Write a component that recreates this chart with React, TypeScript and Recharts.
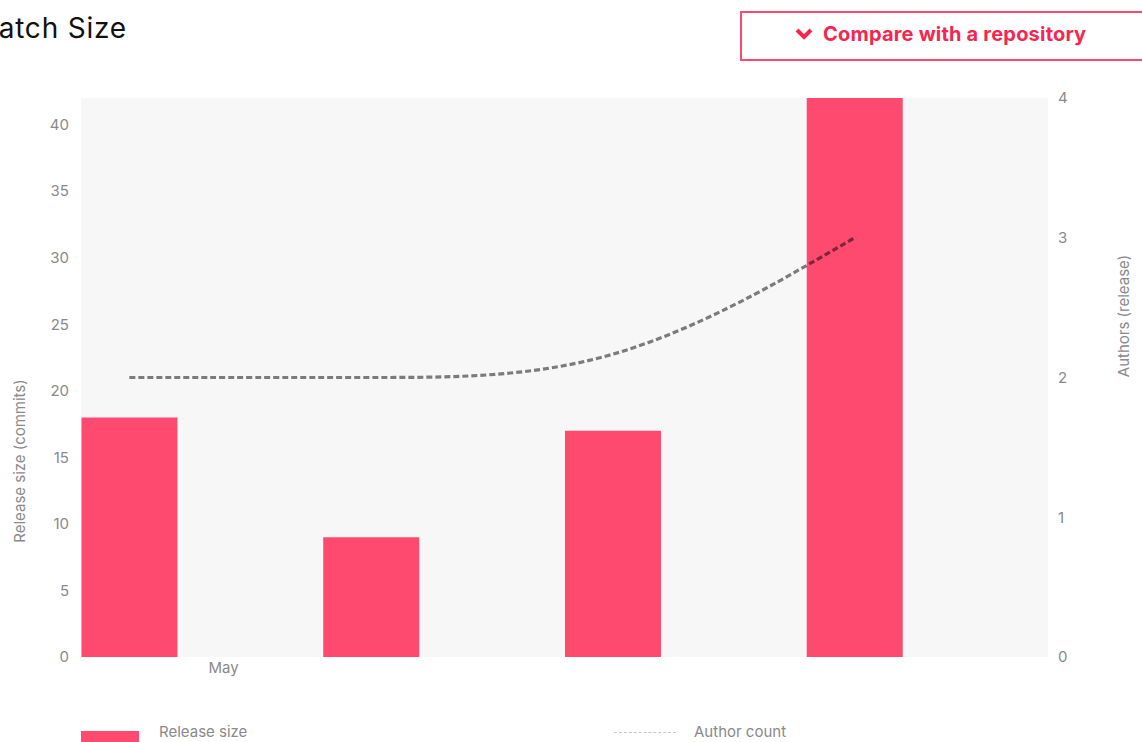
import React from 'react';
import {
  ComposedChart,
  Bar,
  Line,
  XAxis,
  YAxis,
  CartesianGrid,
} from 'recharts';

// ---- data ----
const releasePositions = [0.2, 1.2, 2.2, 3.2];
const releaseSizes = [18, 9, 17, 42];
const authorCounts = [2, 2, 2, 3];
const monthTicks = [0.59];
const monthLabels = ['May'];
const leftTicks = [0, 5, 10, 15, 20, 25, 30, 35, 40];
const rightTicks = [0, 1, 2, 3, 4];

const data = releasePositions.map((x, i) => ({
  x,
  size: releaseSizes[i],
  authors: authorCounts[i],
}));

const PINK = '#ff4a6f';
const GREY = '#8a8a8a';
const FONT = 'Inter, "Noto Sans", sans-serif';

const LeftLabel = () => {
  const x = 19;
  const y = 461;
  return (
    <text
      x={x}
      y={y}
      transform={`rotate(-90 ${x} ${y})`}
      textAnchor="middle"
      dominantBaseline="central"
      fill={GREY}
      fontSize={15}
      fontFamily={FONT}
    >
      Release size (commits)
    </text>
  );
};

const RightLabel = () => {
  const x = 1123;
  const y = 316;
  return (
    <text
      x={x}
      y={y}
      transform={`rotate(-90 ${x} ${y})`}
      textAnchor="middle"
      dominantBaseline="central"
      fill={GREY}
      fontSize={15}
      fontFamily={FONT}
    >
      Authors (release)
    </text>
  );
};

export default function App() {
  return (
    <div
      style={{
        position: 'absolute',
        left: 0,
        top: 0,
        width: 1142,
        height: 742,
        overflow: 'hidden',
        background: '#fff',
        fontFamily: FONT,
      }}
    >
      {/* title (left part clipped by the page edge, as in the reference) */}
      <div
        style={{
          position: 'absolute',
          left: -173,
          top: 11,
          width: 300,
          textAlign: 'right',
          fontSize: 28,
          letterSpacing: 0.8,
          color: '#111',
          whiteSpace: 'nowrap',
          lineHeight: '34px',
        }}
      >
        Batch Size
      </div>

      {/* compare button */}
      <div
        style={{
          position: 'absolute',
          left: 740,
          top: 11,
          width: 440,
          height: 50,
          boxSizing: 'border-box',
          border: `2px solid ${PINK}`,
          display: 'flex',
          alignItems: 'center',
          paddingLeft: 52,
          paddingBottom: 5,
          color: '#f7264f',
          fontWeight: 700,
          fontSize: 20,
          letterSpacing: 0.2,
          whiteSpace: 'nowrap',
        }}
      >
        <svg width="20" height="14" viewBox="0 0 20 14" style={{ marginRight: 9 }}>
          <polyline points="3,3 10,10 17,3" fill="none" stroke="#f7264f" strokeWidth="4" />
        </svg>
        Compare with a repository
      </div>

      <div style={{ position: 'absolute', left: 0, top: 0 }}>
        <ComposedChart
          width={1142}
          height={742}
          data={data}
          margin={{ top: 98, right: 0, bottom: 55, left: 0 }}
        >
          <CartesianGrid fill="#f7f7f7" stroke="none" horizontal={false} vertical={false} />
          <XAxis
            type="number"
            dataKey="x"
            domain={[0, 4]}
            ticks={monthTicks}
            tickFormatter={(v: number) => monthLabels[monthTicks.indexOf(v)] ?? ''}
            axisLine={false}
            tickLine={false}
            tickSize={0}
            tickMargin={5}
            height={30}
            tick={{ fill: GREY, fontSize: 15, fontFamily: FONT }}
          />
          <YAxis
            yAxisId="left"
            orientation="left"
            width={81}
            domain={[0, 42]}
            ticks={leftTicks}
            allowDataOverflow
            axisLine={false}
            tickLine={false}
            tickSize={0}
            tickMargin={12}
            tick={{ fill: GREY, fontSize: 15, fontFamily: FONT }}
            label={<LeftLabel />}
          />
          <YAxis
            yAxisId="right"
            orientation="right"
            width={94}
            domain={[0, 4]}
            ticks={rightTicks}
            axisLine={false}
            tickLine={false}
            tickSize={0}
            tickMargin={10}
            tick={{ fill: GREY, fontSize: 15, fontFamily: FONT }}
            label={<RightLabel />}
          />
          <Bar
            yAxisId="left"
            dataKey="size"
            fill={PINK}
            barSize={96}
            isAnimationActive={false}
          />
          <Line
            yAxisId="right"
            dataKey="authors"
            type="basis"
            stroke="rgba(0,0,0,0.5)"
            strokeWidth={3.2}
            strokeDasharray="6 3"
            dot={false}
            activeDot={false}
            isAnimationActive={false}
          />
        </ComposedChart>
      </div>

      {/* legend */}
      <div
        style={{
          position: 'absolute',
          left: 81,
          top: 731,
          width: 58,
          height: 12,
          background: PINK,
        }}
      />
      <div
        style={{
          position: 'absolute',
          left: 159,
          top: 723,
          fontSize: 15,
          color: GREY,
          lineHeight: '18px',
          whiteSpace: 'nowrap',
        }}
      >
        Release size
      </div>
      <div
        style={{
          position: 'absolute',
          left: 614,
          top: 732,
          width: 62,
          height: 0,
          borderTop: '1px dashed #c8c8c8',
        }}
      />
      <div
        style={{
          position: 'absolute',
          left: 694,
          top: 723,
          fontSize: 15,
          color: GREY,
          lineHeight: '18px',
          whiteSpace: 'nowrap',
        }}
      >
        Author count
      </div>
    </div>
  );
}
